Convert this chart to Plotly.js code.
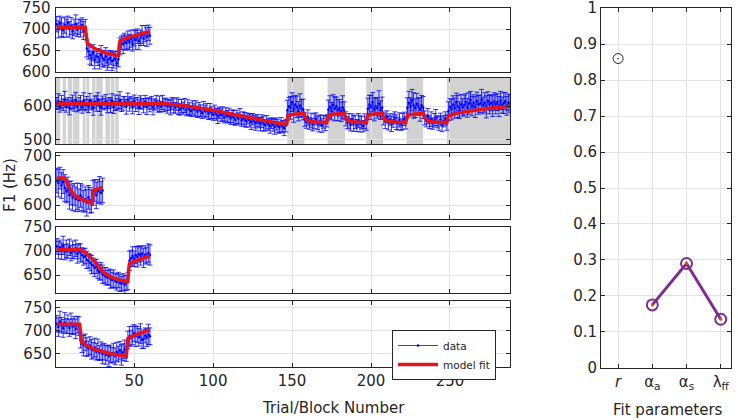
<!DOCTYPE html>
<html><head><meta charset="utf-8">
<script src="https://cdn.plot.ly/plotly-3.0.1.min.js"></script>
<style>html,body{margin:0;padding:0;background:#fff}#chart{width:738px;height:420px}</style>
</head><body><div id="chart"></div><script>
// ---------- data ----------
const d1 = [712,700,715,705,698,710,703,716,700,708,
  695,705,712,699,706,702,710,697,704,655,
  648,640,632,645,628,638,635,625,640,632,
  628,636,622,630,634,625,628,632,620,630,
  660,668,665,672,668,675,670,678,665,680,
  675,684,672,680,688,678,690,682,692,685];
const e1 = [18,20,16,22,17,19,21,15,18,20,
  17,19,22,16,18,20,17,21,19,20,
  18,22,17,19,21,16,20,18,22,19,
  17,21,18,20,16,22,19,17,21,18,
  20,16,22,19,17,21,18,20,16,19,
  22,17,20,18,21,16,19,22,18,20];
const fit1x = [1,19,19.5,20.5,25,30,35,40,40.5,41,45,50,55,60];
const fit1y = [705,705,690,666,655,647,642,638,660,673,680,685,690,695];

const d2 = [608,615,598,612,604,620,601,610,595,607,
  613,602,618,599,606,611,597,615,603,609,
  600,616,605,594,612,608,620,601,597,611,
  606,614,599,609,603,617,596,610,605,612,
  618,602,608,613,598,620,606,611,600,615,
  604,609,597,612,607,601,614,599,608,603,
  610,596,605,612,600,607,598,611,603,606,
  599,604,596,608,601,595,606,598,590,600,
  594,602,588,597,591,585,596,589,593,583,
  590,586,579,592,584,588,577,585,580,574,
  583,576,570,580,573,577,566,575,569,572,
  563,570,566,559,568,562,571,557,564,560,
  555,563,558,552,561,554,549,557,551,546,
  555,548,543,552,546,540,549,544,538,547,
  541,536,545,539,534,542,588,600,595,612,
  590,605,598,585,602,594,590,560,552,566,
  548,558,545,555,562,550,547,557,543,553,
  549,556,590,598,585,604,592,600,588,595,
  583,597,586,562,550,556,545,560,548,553,
  542,557,547,551,540,555,548,592,605,597,
  612,590,600,594,608,588,596,563,555,568,
  550,560,547,557,565,552,548,559,545,554,
  562,550,595,610,598,618,602,594,607,599,
  590,603,596,565,556,570,552,561,548,558,
  566,553,549,560,546,555,563,551,585,598,
  590,605,594,612,599,588,606,596,603,612,
  595,608,618,600,610,597,615,604,607,620,
  602,611,598,616,605,610,600,614,606,612,
  599,617,603,609,615,601,611,607];
const e2 = [18,22,16,20,17,24,19,15,21,18,
  20,17,23,16,19,21,18,25,17,20,
  19,22,16,21,18,23,20,17,24,19,
  17,21,19,16,22,20,18,23,17,21,
  25,18,20,16,22,19,21,17,23,18,
  20,17,22,19,16,21,18,24,17,20,
  19,22,17,20,18,23,16,21,19,18,
  20,17,22,18,21,16,19,23,17,20,
  18,21,17,22,19,16,20,18,23,17,
  21,18,16,22,19,20,17,23,18,16,
  20,18,22,17,19,21,16,20,18,22,
  17,19,21,16,20,18,22,17,19,21,
  18,16,20,22,17,19,21,18,16,20,
  19,22,17,20,18,21,16,19,22,18,
  20,17,21,18,22,19,30,26,34,28,
  38,27,32,29,35,26,31,20,18,23,
  17,21,19,22,18,20,24,17,21,19,
  22,18,28,33,26,30,36,27,31,25,
  29,34,27,21,18,22,19,17,23,20,
  18,21,24,19,17,22,20,32,27,36,
  29,34,26,30,38,28,31,19,22,18,
  21,17,23,20,18,22,19,21,17,24,
  20,18,30,34,27,32,38,28,31,26,
  35,29,33,21,18,23,19,22,17,20,
  24,18,21,19,22,17,20,23,28,24,
  31,26,30,27,33,25,29,26,30,25,
  28,32,26,29,24,31,27,28,26,30,
  25,29,33,27,28,24,31,26,29,25,
  30,27,24,31,26,28,25,27];
const fit2x = [1,70,80,90,100,110,120,130,140,146.5,147.5,150,157.5,158.5,160,165,172,173,175,183,184,186,190,197,198,200,207,208,210,215,222,223,225,233,234,236,240,248,249,255,265,275,288];
const fit2y = [607,607,603,596,588,578,568,558,550,546,572,575,579,565,556,553,551,572,575,579,565,556,553,551,572,575,579,565,556,553,551,572,575,579,565,556,553,551,570,580,588,594,600];
const bandStart = [0.5,4.7,7.9,11.3,17.4,19.7,23.3,26,31.8,35.3,38,147,172.5,197,222.5,248];
const bandEnd   = [3.2,6.8,10.8,15.3,19.2,21.6,25.5,30.1,34.8,37.5,40.2,157.8,183.5,207.6,233,288];

const d3 = [650,645,655,640,648,635,628,632,620,625,
  615,622,612,618,610,620,615,608,612,605,
  616,610,608,625,630,620,628,632,625,630];
const e3 = [25,28,22,26,24,27,23,25,28,24,
  26,22,25,27,23,24,26,22,25,27,
  24,26,23,25,22,27,24,26,23,25];
const fit3x = [1,6,9,12,16,20,23.5,24,30];
const fit3y = [655,655,635,620,613,608,604,630,636];

const d4 = [710,702,708,700,712,698,705,700,708,696,
  703,699,706,694,700,697,692,688,690,682,
  680,676,672,670,665,668,660,656,658,652,
  650,648,645,646,642,640,643,638,636,640,
  634,632,636,630,634,638,680,685,690,684,
  692,688,694,690,695,686,693,690,696,692];
const e4 = [16,18,15,17,19,16,18,15,17,16,
  18,15,17,19,16,18,15,17,16,18,
  15,17,19,16,18,15,17,16,18,19,
  16,18,15,17,19,16,18,15,17,16,
  18,15,17,19,16,18,20,17,19,16,
  18,21,17,19,16,20,18,17,19,21];
const fit4x = [1,16,20,25,31,36,41,46,46.5,47,50,55,60];
const fit4y = [703,703,695,678,655,645,640,637,660,674,679,685,690];

const d5 = [715,708,720,712,705,718,710,714,706,716,
  709,712,704,713,710,680,672,668,675,665,
  662,668,660,658,664,655,660,652,657,650,
  655,648,652,645,650,648,652,645,655,650,
  658,648,654,660,650,680,688,684,690,695,
  688,692,686,694,680,682,690,685,692,688];
const e5 = [18,20,22,17,19,21,16,20,18,22,
  17,19,21,18,20,17,19,22,18,20,
  16,19,21,17,20,18,22,16,19,21,
  18,20,17,22,19,16,21,18,20,17,
  19,22,18,20,16,19,21,17,20,18,
  22,17,19,21,18,20,16,19,22,18];
const fit5x = [1,15.5,16.5,20,25,30,35,40,45,45.5,46,50,55,60];
const fit5y = [714,714,677,668,660,655,651,648,645,665,683,690,696,702];

const paramNames = ['<i>r</i>','α<sub>a</sub>','α<sub>s</sub>','λ<sub>ff</sub>'];
const rValue = [0.86];
const alphaValues = [0.175, 0.29, 0.135];

const xTicks = [50,100,150,200,250];
const yTicks1 = [600,650,700,750];
const yTicks2 = [500,600];
const yTicks3 = [600,650,700];
const yTicks4 = [650,700,750];
const yTicks5 = [650,700,750];
const yTicksR = [0,0.1,0.2,0.3,0.4,0.5,0.6,0.7,0.8,0.9,1];
const yTickTextR = ['0','0.1','0.2','0.3','0.4','0.5','0.6','0.7','0.8','0.9','1'];
// ---------- build ----------
const idx = n => Array.from({length:n}, (_, i) => i + 1);
const BLUE = '#0000ff', RED = '#e5141b', TXT = '#262626', GRID = '#e3e3e3', PURPLE = '#7E2F8E';
const FONT = 'DejaVu Sans, sans-serif';
const FS = 15;

function dataTrace(y, e, n, showLeg) {
  return {x: idx(y.length), y: y, type: 'scatter', mode: 'lines+markers',
    xaxis: 'x' + (n === 1 ? '' : n), yaxis: 'y' + (n === 1 ? '' : n),
    line: {color: BLUE, width: 0.8}, marker: {color: BLUE, size: 2.5},
    error_y: {type: 'data', array: e, color: BLUE, thickness: 0.8, width: 2.5},
    name: 'data', showlegend: !!showLeg, hoverinfo: 'skip'};
}
function fitTrace(x, y, n, showLeg) {
  return {x: x, y: y, type: 'scatter', mode: 'lines',
    xaxis: 'x' + (n === 1 ? '' : n), yaxis: 'y' + (n === 1 ? '' : n),
    line: {color: RED, width: 3.5}, name: 'model fit', showlegend: !!showLeg, hoverinfo: 'skip'};
}
const traces = [
  dataTrace(d1, e1, 1), fitTrace(fit1x, fit1y, 1),
  dataTrace(d2, e2, 2), fitTrace(fit2x, fit2y, 2),
  dataTrace(d3, e3, 3), fitTrace(fit3x, fit3y, 3),
  dataTrace(d4, e4, 4), fitTrace(fit4x, fit4y, 4),
  dataTrace(d5, e5, 5, true), fitTrace(fit5x, fit5y, 5, true),
  {x: [1], y: rValue, type: 'scatter', mode: 'markers', xaxis: 'x6', yaxis: 'y6', showlegend: false,
   marker: {symbol: 'circle-open-dot', size: 10, color: TXT, line: {width: 1, color: TXT}}},
  {x: [2,3,4], y: alphaValues, type: 'scatter', mode: 'lines+markers', xaxis: 'x6', yaxis: 'y6', showlegend: false,
   line: {color: PURPLE, width: 3},
   marker: {symbol: 'circle-open', size: 11, color: PURPLE, line: {width: 2, color: PURPLE}}},
  {x: [2,3,4], y: alphaValues, type: 'scatter', mode: 'markers', xaxis: 'x6', yaxis: 'y6', showlegend: false,
   marker: {symbol: 'circle', size: 3, color: '#D95319'}}
];

const W = 738, H = 420;
const px = v => v / W, py = v => 1 - v / H;
const XD = [px(56), px(510)];
const panels = [
  {top: 8, bot: 72, range: [599.8, 750.2], ticks: yTicks1, asAnn: true},
  {top: 78, bot: 144, range: [487, 684], ticks: yTicks2},
  {top: 153, bot: 219, range: [572, 706], ticks: yTicks3},
  {top: 227, bot: 293, range: [613, 750.2], ticks: yTicks4},
  {top: 301, bot: 367, range: [622, 764], ticks: yTicks5}
];
const axBase = {ticks: 'inside', ticklen: 4, tickcolor: TXT, showline: true, linecolor: TXT, linewidth: 1,
  mirror: 'allticks', showgrid: true, gridcolor: GRID, gridwidth: 1, zeroline: false,
  ticklabeloverflow: 'allow', tickfont: {family: FONT, size: FS, color: TXT}};
const layout = {width: W, height: H, margin: {l: 0, r: 0, t: 0, b: 0}, paper_bgcolor: '#fff', plot_bgcolor: '#fff',
  font: {family: FONT, color: TXT}, showlegend: true, shapes: [], annotations: [],
  legend: {x: px(392), y: py(330), xanchor: 'left', yanchor: 'top', bgcolor: '#fff', bordercolor: TXT, borderwidth: 1,
    font: {family: FONT, size: 10.5, color: TXT}, tracegroupgap: 0, itemwidth: 40}};
panels.forEach((p, i) => {
  const n = i + 1, s = n === 1 ? '' : String(n);
  const dom = [py(p.bot), py(p.top)];
  layout['xaxis' + s] = Object.assign({}, axBase, {domain: XD, anchor: 'y' + s, range: [0.5, 288],
    tickmode: 'array', tickvals: xTicks, ticktext: xTicks.map(String), showticklabels: n === 5});
  layout['yaxis' + s] = Object.assign({}, axBase, {domain: dom, anchor: 'x' + s,
    range: p.range, tickmode: 'array', tickvals: p.ticks, ticktext: p.ticks.map(String),
    showticklabels: !p.asAnn});
  if (p.asAnn) {
    // tick labels of the first panel placed at the tick positions of its y axis range
    p.ticks.forEach(t => layout.annotations.push({text: String(t), xref: 'paper', yref: 'paper', x: px(53),
      y: dom[0] + (t - p.range[0]) / (p.range[1] - p.range[0]) * (dom[1] - dom[0]),
      xanchor: 'right', yanchor: 'middle', showarrow: false, font: {family: FONT, size: FS, color: TXT}}));
  }
});
layout.xaxis6 = Object.assign({}, axBase, {domain: [px(601), px(731)], anchor: 'y6', range: [0.5, 4.3],
  tickmode: 'array', tickvals: [1,2,3,4], ticktext: paramNames});
layout.yaxis6 = Object.assign({}, axBase, {domain: [py(368), py(8)], anchor: 'x6', range: [-0.0005, 1.0005],
  tickmode: 'array', tickvals: yTicksR, ticktext: yTickTextR});
bandStart.forEach((b, i) => {
  layout.shapes.push({type: 'rect', xref: 'x2', yref: 'y2 domain', x0: b, x1: bandEnd[i], y0: 0, y1: 1,
    fillcolor: '#d2d2d2', line: {width: 0}, layer: 'below'});
});
layout.annotations.push(
  {text: 'Trial/Block Number', xref: 'paper', yref: 'paper', x: px(333), y: py(408), xanchor: 'center', yanchor: 'middle',
   showarrow: false, font: {family: FONT, size: FS, color: TXT}},
  {text: 'Fit parameters', xref: 'paper', yref: 'paper', x: px(668), y: py(410), xanchor: 'center', yanchor: 'middle',
   showarrow: false, font: {family: FONT, size: FS, color: TXT}},
  {text: 'F1 (Hz)', xref: 'paper', yref: 'paper', x: px(10), y: py(185), xanchor: 'center', yanchor: 'middle',
   showarrow: false, textangle: -90, font: {family: FONT, size: FS, color: TXT}}
);
Plotly.newPlot('chart', traces, layout, {staticPlot: true, displayModeBar: false});
</script></body></html>
